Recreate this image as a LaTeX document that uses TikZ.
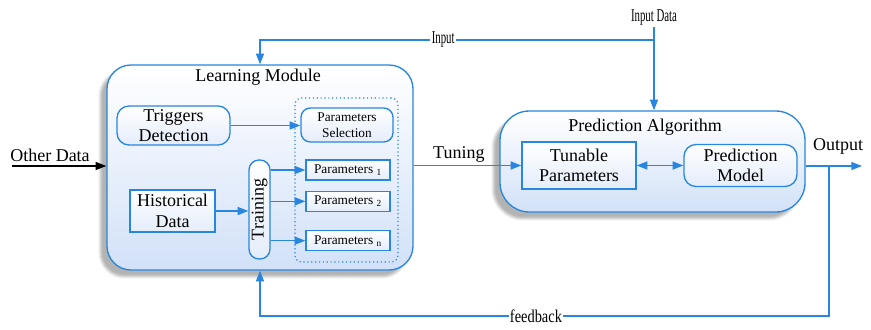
\documentclass[tikz,border=0pt]{standalone}
\usepackage{fontspec}
\setmainfont{Liberation Serif}
\usetikzlibrary{arrows.meta,positioning,shadows.blur}
\definecolor{flowblue}{RGB}{40,134,224}
\definecolor{paleblue}{RGB}{210,225,248}
\tikzset{
    lmcontainer/.style={draw=flowblue, line width=1pt, top color=white, bottom color=paleblue, blur shadow={shadow xshift=-5pt, shadow yshift=-5pt, shadow opacity=30}},
    lmblock/.style={draw=flowblue, line width=1pt, align=center, font=\fontsize{13.5}{15.5}\selectfont, top color=white, bottom color=paleblue!60, inner sep=1pt},
    lmsmall/.style={draw=flowblue, line width=1pt, align=center, font=\fontsize{10}{12}\selectfont, top color=white, bottom color=paleblue!60, inner sep=1pt},
    lmflow/.style={draw=flowblue, line width=1pt, -{Triangle[length=8pt,width=6pt]}},
    lmtext/.style={align=center, font=\fontsize{13.5}{15.5}\selectfont, inner sep=1pt},
    lmcut/.style={lmtext, fill=white}
}

\begin{document}
\begin{tikzpicture}[x=0.75pt, y=-0.75pt]
    \useasboundingbox (0,0) rectangle (871,329);
    % learning module
    \node[lmcontainer, rounded corners=18pt, minimum width=229.5pt, minimum height=153.75pt] (learn) at (260,167.5) {};
    \node[lmtext] (learntitle) at (258,77) {Learning Module};
    \node[lmblock, rounded corners=9pt, minimum width=84.75pt, minimum height=29.25pt] (trig) at (173.5,125.5) {Triggers\\Detection};
    \node[draw=flowblue, line width=0.9pt, dotted, rounded corners=5pt, minimum width=77.25pt, minimum height=123pt] (pgroup) at (346.5,180) {};
    \node[lmsmall, rounded corners=7pt, minimum width=69pt, minimum height=25.5pt] (psel) at (347,125) {Parameters\\Selection};
    \node[lmsmall, minimum width=63pt, minimum height=15pt] (pone) at (348,170) {Parameters \textsubscript{1}};
    \node[lmsmall, minimum width=63pt, minimum height=15pt, below=7.5pt of pone] (ptwo) {Parameters \textsubscript{2}};
    \node[lmsmall, minimum width=63pt, minimum height=15pt, below=13.5pt of ptwo] (pn) {Parameters \textsubscript{n}};
    \node[lmblock, minimum width=63.75pt, minimum height=31.5pt] (hist) at (172.5,211) {Historical\\Data};
    \node[lmblock, rounded corners=7.5pt, minimum width=15.75pt, minimum height=74.25pt, inner sep=0pt] (train) at (259.5,209.5) {\rotatebox{90}{Training}};
    \draw[lmflow] (trig.east) -- (trig.east -| psel.west);
    \draw[lmflow] (hist.east) -- (hist.east -| train.west);
    \draw[lmflow] (train.east |- pone) -- (pone.west);
    \draw[lmflow] (train.east |- ptwo) -- (ptwo.west);
    \draw[lmflow] (train.east |- pn) -- (pn.west);
    % prediction algorithm
    \node[lmcontainer, rounded corners=22pt, minimum width=228.75pt, minimum height=75.75pt] (pred) at (652.5,161.5) {};
    \node[lmtext] (predtitle) at (645,127) {Prediction Algorithm};
    \node[lmblock, minimum width=85.5pt, minimum height=35.25pt] (tune) at (579,165.5) {Tunable\\Parameters};
    \node[lmblock, rounded corners=9pt, minimum width=84.75pt, minimum height=31.5pt] (pmodel) at (740.5,165.5) {Prediction\\Model};
    \draw[lmflow, {Triangle[length=8pt,width=6pt]}-{Triangle[length=8pt,width=6pt]}] (tune.east) -- (pmodel.west);
    % outer connections
    \node[lmtext] (other) at (50,155) {Other Data};
    \coordinate (otherin) at (12,166);
    \draw[line width=0.8pt, -{Triangle[length=8pt,width=6pt]}] (otherin) -- (otherin -| learn.west);
    \draw[lmflow] (learn.east |- tune) -- node[lmtext, above=1pt, pos=0.42] (tuning) {Tuning} (tune.west);
    \coordinate (outend) at (862,166);
    \draw[lmflow] (pred.east |- outend) -- (outend);
    \node[lmtext] (output) at (838,146) {Output};
    \coordinate (fbtap) at (829,166);
    \coordinate (fbbot) at (829,316);
    \draw[lmflow] (fbtap) -- (fbbot) -- node[lmcut, pos=0.515] (fback) {\scalebox{0.8}[1]{feedback}} (fbbot -| learn.south) -- (learn.south);
    \node[lmtext] (indata) at (654,18) {\scalebox{0.6}[1]{Input Data}};
    \draw[lmflow] (indata.south) -- (indata.south |- pred.north);
    \coordinate (inbranch) at (654,40);
    \draw[lmflow] (inbranch) -- node[lmcut, pos=0.535] (input) {\scalebox{0.6}[1]{Input}} (inbranch -| learn.north) -- (learn.north);
\end{tikzpicture}
\end{document}
